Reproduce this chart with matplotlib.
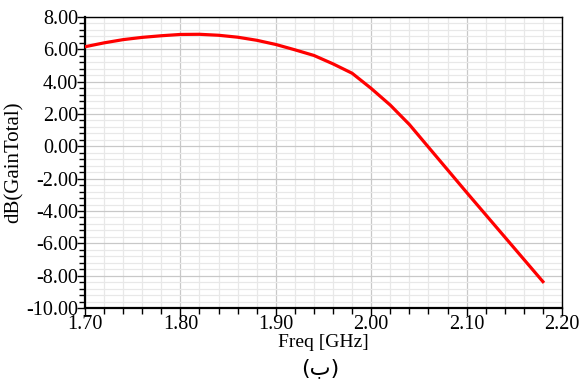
import matplotlib
matplotlib.use("Agg")
import matplotlib.pyplot as plt
from matplotlib.ticker import MultipleLocator, FormatStrFormatter

# ========= DATOS =========
freq = [1.70, 1.72, 1.74, 1.76, 1.78, 1.80, 1.82, 1.84, 1.86, 1.88, 1.90, 1.92,
        1.94, 1.96, 1.98, 2.00, 2.02, 2.04, 2.06, 2.08, 2.10, 2.12, 2.14, 2.16, 2.18]
gain_db = [6.16, 6.40, 6.60, 6.74, 6.84, 6.92, 6.93, 6.87, 6.75, 6.56, 6.30, 5.97,
           5.62, 5.10, 4.52, 3.58, 2.55, 1.35, -0.05, -1.45, -2.85, -4.23, -5.61, -6.99, -8.37]

plt.rcParams['font.family'] = ['Liberation Serif', 'DejaVu Serif']

fig = plt.figure(figsize=(5.81, 3.81), dpi=100)
ax = fig.add_axes([0.1463, 0.1916, 0.8210, 0.7638])

ax.plot(freq, gain_db, color='#ff0000', linewidth=2.3, zorder=3)

ax.set_xlim(1.70, 2.20)
ax.set_ylim(-10, 8)
ax.xaxis.set_major_locator(MultipleLocator(0.1))
ax.xaxis.set_minor_locator(MultipleLocator(0.02))
ax.yaxis.set_major_locator(MultipleLocator(2))
ax.yaxis.set_minor_locator(MultipleLocator(0.4))
ax.xaxis.set_major_formatter(FormatStrFormatter('%.2f'))
ax.yaxis.set_major_formatter(FormatStrFormatter('%.2f'))

ax.grid(which='major', color='#c8c8c8', linewidth=0.9)
ax.grid(which='minor', color='#e8e8e8', linewidth=0.9)
ax.set_axisbelow(True)

ax.tick_params(which='major', direction='out', length=6, width=1, labelsize=14.5, pad=-1, colors='black')
ax.tick_params(which='minor', direction='out', length=4, width=1)
for s in ax.spines.values():
    s.set_color('black')
    s.set_linewidth(1)
ax.spines['left'].set_linewidth(1.6)
ax.spines['bottom'].set_linewidth(1.6)

ax.set_xlabel('Freq [GHz]', fontsize=14, labelpad=0)
ax.set_ylabel('dB(GainTotal)', fontsize=15, labelpad=2)

fig.text(0.551, 0.035, '(ب)', ha='center', va='center', fontsize=16,
         family=['DejaVu Sans', 'Noto Sans'])

fig.savefig('out.png', dpi=100)
